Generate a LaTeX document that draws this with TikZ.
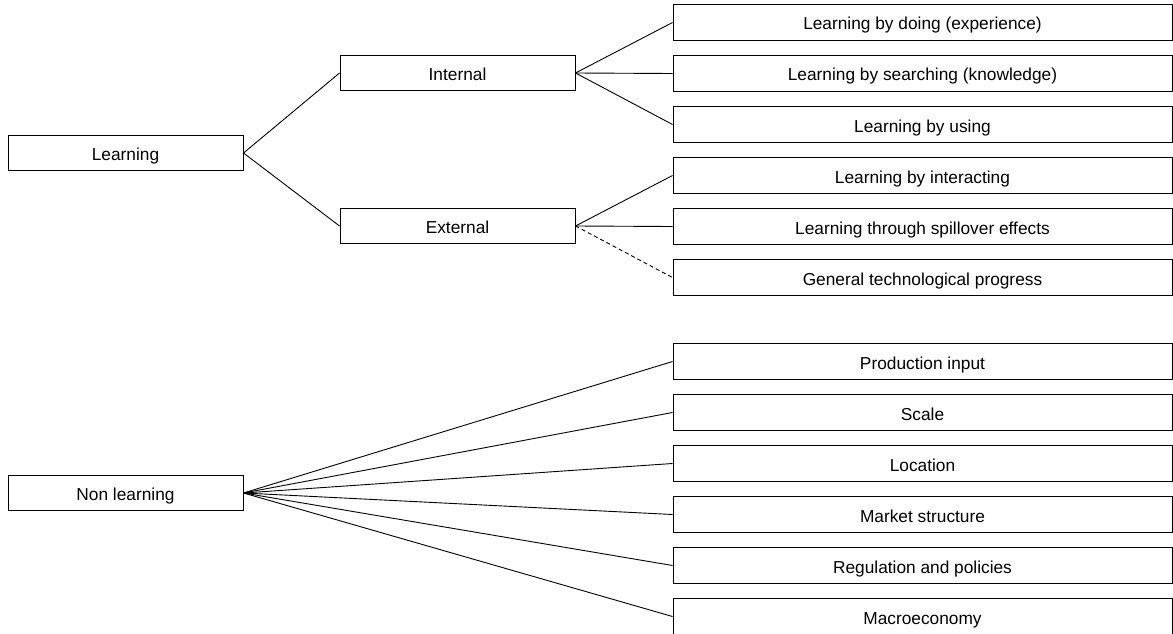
\documentclass[tikz,border=0pt]{standalone}
\usepackage{fontspec}
\setmainfont{Liberation Sans}
\usetikzlibrary{positioning}

\begin{document}
\begin{tikzpicture}[
  x=1pt, y=-1pt,
  node distance=14.5pt,
  box/.style={
    rectangle, draw, line width=1pt, minimum height=35.5pt,
    inner sep=0pt, text height=16pt, text depth=1pt,
    font=\fontsize{17.3}{20}\selectfont
  },
  cat/.style={box, minimum width=235pt},
  item/.style={box, minimum width=499pt},
  link/.style={line width=0.9pt}
]
\useasboundingbox (0,0) rectangle (1173,634);

\node (learn) [cat] at (125.5,153) {Learning};
\node (int) [cat] at (457.5,73) {Internal};
\node (ext) [cat] at (457.5,226) {External};
\node (nonlearn) [cat] at (125.5,493) {Non learning};

\node (doing) [item] at (922.5,22.5) {Learning by doing (experience)};
\node (search) [item, below=of doing] {Learning by searching (knowledge)};
\node (using) [item, below=of search] {Learning by using};
\node (interact) [item, below=of using] {Learning by interacting};
\node (spill) [item, below=of interact] {Learning through spillover effects};
\node (general) [item, below=of spill] {General technological progress};

\node (input) [item] at (922.5,361.5) {Production input};
\node (scale) [item, below=of input] {Scale};
\node (loc) [item, below=of scale] {Location};
\node (market) [item, below=of loc] {Market structure};
\node (reg) [item, below=of market] {Regulation and policies};
\node (macro) [item, below=of reg] {Macroeconomy};

\draw[link] (learn.east) -- (int.west);
\draw[link] (learn.east) -- (ext.west);
\draw[link] (int.east) -- (doing.west);
\draw[link] (int.east) -- (search.west);
\draw[link] (int.east) -- (using.west);
\draw[link] (ext.east) -- (interact.west);
\draw[link] (ext.east) -- (spill.west);
\draw[link, dash pattern=on 4pt off 3pt] (ext.east) -- (general.west);
\foreach \n in {input,scale,loc,market,reg,macro}
  \draw[link] (nonlearn.east) -- (\n.west);
\end{tikzpicture}
\end{document}
